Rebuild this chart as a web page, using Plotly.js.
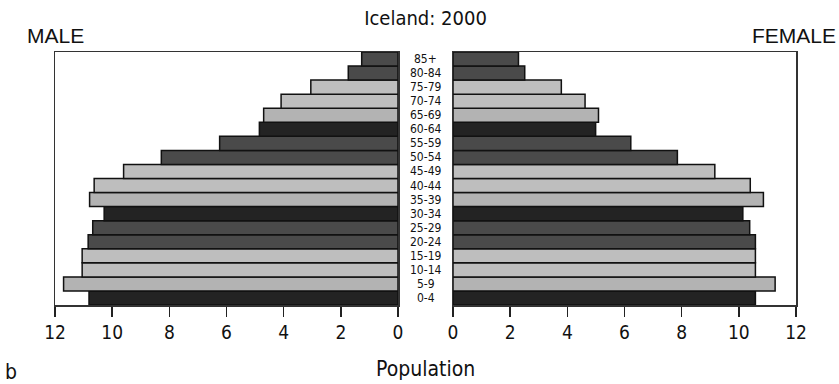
<!DOCTYPE html>
<html>
<head>
<meta charset="utf-8">
<script src="https://cdn.plot.ly/plotly-3.0.1.min.js"></script>
<style>html,body{margin:0;padding:0;background:#fff;}#chart{width:839px;height:384px;}</style>
</head>
<body>
<div id="chart"></div>
<script>
// Age groups (bottom to top)
var ageGroups = ["0-4","5-9","10-14","15-19","20-24","25-29","30-34","35-39","40-44","45-49","50-54","55-59","60-64","65-69","70-74","75-79","80-84","85+"];
// Male population (left side)
var maleValues = [10.81, 11.70, 11.05, 11.05, 10.84, 10.68, 10.28, 10.79, 10.63, 9.60, 8.28, 6.24, 4.85, 4.70, 4.09, 3.05, 1.74, 1.27];
// Female population (right side)
var femaleValues = [10.58, 11.27, 10.58, 10.58, 10.58, 10.38, 10.14, 10.86, 10.40, 9.16, 7.85, 6.22, 4.99, 5.09, 4.62, 3.79, 2.51, 2.29];
// Bar shades, repeating pattern by age group
var barColors = ["#232323","#b3b3b3","#bebebe","#bebebe","#4a4a4a","#4a4a4a","#232323","#b3b3b3","#bebebe","#bebebe","#4a4a4a","#4a4a4a","#232323","#b3b3b3","#bebebe","#bebebe","#4a4a4a","#4a4a4a"];
var xTicks = [0, 2, 4, 6, 8, 10, 12];

var narrow = '"DejaVu Sans Condensed", "Liberation Sans Narrow", sans-serif';
var lineStyle = {color: "#111", width: 1.5};

var traces = [
  {type: "bar", orientation: "h", x: maleValues, y: ageGroups, xaxis: "x", yaxis: "y",
   marker: {color: barColors, line: lineStyle}, hoverinfo: "x+y", showlegend: false},
  {type: "bar", orientation: "h", x: femaleValues, y: ageGroups, xaxis: "x2", yaxis: "y2",
   marker: {color: barColors, line: lineStyle}, hoverinfo: "x+y", showlegend: false}
];

var axisCommon = {
  showline: true, mirror: true, linecolor: "#333", linewidth: 1.5,
  showgrid: false, zeroline: false,
  ticks: "outside", ticklen: 10, tickwidth: 1.5, tickcolor: "#222",
  tickmode: "array", tickvals: xTicks, ticktext: xTicks.map(String),
  tickfont: {family: narrow, size: 19, color: "#111"}, fixedrange: true
};
var yCommon = {
  type: "category", categoryorder: "array", categoryarray: ageGroups,
  showline: true, mirror: true, linecolor: "#333", linewidth: 1.5,
  showgrid: false, zeroline: false, showticklabels: false, ticks: "",
  range: [-0.5, ageGroups.length - 0.5], fixedrange: true
};

var yDom = [1 - 305/384, 1 - 52/384];

var annotations = ageGroups.map(function (g) {
  return {text: g, xref: "paper", yref: "y", x: 425.5/839, y: g, showarrow: false,
          xanchor: "center", yanchor: "middle",
          font: {family: narrow, size: 12, color: "#111"}};
});
annotations.push(
  {text: "MALE", xref: "paper", yref: "paper", x: 55/839, y: 1 - 35.5/384, showarrow: false,
   xanchor: "center", yanchor: "middle", font: {family: '"Liberation Sans", Arial, sans-serif', size: 21, color: "#111"}},
  {text: "FEMALE", xref: "paper", yref: "paper", x: 794/839, y: 1 - 35.5/384, showarrow: false,
   xanchor: "center", yanchor: "middle", font: {family: '"Liberation Sans", Arial, sans-serif', size: 21, color: "#111"}},
  {text: "Population", xref: "paper", yref: "paper", x: 425.5/839, y: 1 - 369/384, showarrow: false,
   xanchor: "center", yanchor: "middle", font: {family: narrow, size: 21, color: "#111"}},
  {text: "b", xref: "paper", yref: "paper", x: 11/839, y: 1 - 372/384, showarrow: false,
   xanchor: "center", yanchor: "middle", font: {family: narrow, size: 21, color: "#111"}}
);

var layout = {
  width: 839, height: 384,
  margin: {l: 0, r: 0, t: 0, b: 0, pad: 0},
  paper_bgcolor: "#fff", plot_bgcolor: "#fff",
  title: {text: "Iceland: 2000", x: 425.5/839, xanchor: "center", xref: "container",
          y: 1 - 17.5/384, yanchor: "middle", yref: "container",
          font: {family: narrow, size: 20, color: "#111"}},
  bargap: 0,
  xaxis: Object.assign({}, axisCommon, {domain: [55/839, 398/839], range: [12, 0], anchor: "y"}),
  yaxis: Object.assign({}, yCommon, {domain: yDom, anchor: "x"}),
  xaxis2: Object.assign({}, axisCommon, {domain: [453/839, 796/839], range: [0, 12], anchor: "y2"}),
  yaxis2: Object.assign({}, yCommon, {domain: yDom, anchor: "x2"}),
  annotations: annotations,
  showlegend: false
};

Plotly.newPlot("chart", traces, layout, {displayModeBar: false, staticPlot: true});
</script>
</body>
</html>
